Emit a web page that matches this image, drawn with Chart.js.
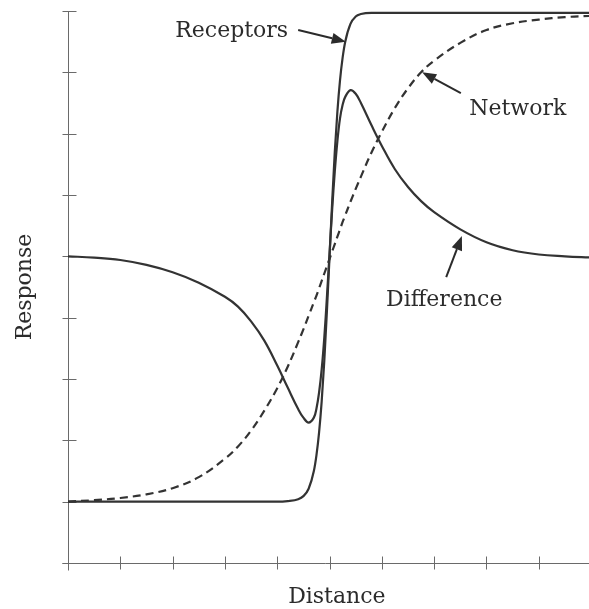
<!DOCTYPE html>
<html>
<head>
<meta charset="utf-8">
<title>Receptors / Network / Difference</title>
<script src="https://cdn.jsdelivr.net/npm/chart.js@4/dist/chart.umd.min.js"></script>
<style>
  html, body { margin: 0; padding: 0; background: #fff; overflow: hidden; }
  #wrap { width: 589px; height: 609px; }
</style>
</head>
<body>
<div id="wrap"><canvas id="chart" width="589" height="609"></canvas></div>
<script>
// distance samples (denser around the edge at 5)
const distance = [0, 0.5, 1, 1.5, 2, 2.5, 3, 3.25, 3.5, 3.75, 4, 4.2, 4.4, 4.5, 4.6, 4.7, 4.75, 4.8, 4.85, 4.9, 4.95,
  5, 5.05, 5.1, 5.15, 5.2, 5.25, 5.3, 5.4, 5.5, 5.6, 5.8, 6, 6.25, 6.5, 6.75, 7, 7.5, 8, 8.5, 9, 9.5, 10];

const receptors = [1, 1, 1, 1, 1, 1, 1, 1, 1, 1, 1, 1.01, 1.04, 1.09, 1.21, 1.5, 1.76, 2.13, 2.64, 3.3, 4.11,
  5.0, 5.89, 6.7, 7.36, 7.87, 8.24, 8.5, 8.79, 8.91, 8.95, 8.97, 8.97, 8.97, 8.97, 8.97, 8.97, 8.97, 8.97, 8.97, 8.97, 8.97, 8.97];

const network = [1.0, 1.025, 1.06, 1.12, 1.22, 1.4, 1.7, 1.9, 2.16, 2.48, 2.85, 3.2, 3.6, 3.81, 4.03, 4.25, 4.36, 4.48, 4.6, 4.72, 4.84,
  4.96, 5.08, 5.2, 5.32, 5.44, 5.56, 5.67, 5.89, 6.1, 6.3, 6.69, 7.03, 7.42, 7.74, 8.0, 8.19, 8.48, 8.69, 8.8, 8.86, 8.9, 8.92];

const difference = [5.0, 4.98, 4.94, 4.86, 4.74, 4.57, 4.34, 4.18, 3.94, 3.63, 3.22, 2.86, 2.51, 2.37, 2.29, 2.37, 2.52, 2.78, 3.16, 3.68, 4.34,
  5.05, 5.76, 6.38, 6.88, 7.25, 7.47, 7.6, 7.71, 7.65, 7.5, 7.14, 6.8, 6.42, 6.13, 5.9, 5.72, 5.44, 5.23, 5.1, 5.03, 5.0, 4.98];

const xTicks = [0, 1, 2, 3, 4, 5, 6, 7, 8, 9];
const yTicks = [0, 1, 2, 3, 4, 5, 6, 7, 8, 9];

(function () {
  const FONT = '22px "DejaVu Serif", "Liberation Serif", serif';
  const INK = "#2b2b2b";

  // callouts, given in data units
  const labels = [
    { text: "Receptors", x: 2.05, y: 8.58, align: "left" },
    { text: "Network", x: 7.67, y: 7.3, align: "left" },
    { text: "Difference", x: 6.08, y: 4.19, align: "left" },
  ];
  const arrows = [
    { from: [4.4, 8.69], to: [5.31, 8.5] },
    { from: [7.51, 7.66], to: [6.77, 8.0] },
    { from: [7.23, 4.66], to: [7.53, 5.33] },
  ];

  function points(series) {
    return distance.map((d, i) => ({ x: d, y: series[i] }));
  }

  function crisp(v) {
    return Math.round(v) + 0.5;
  }

  const axesPlugin = {
    id: "crossAxes",
    beforeDatasetsDraw(chart) {
      const ctx = chart.ctx;
      const sx = chart.scales.x;
      const sy = chart.scales.y;
      const x0 = crisp(sx.getPixelForValue(0));
      const y0 = crisp(sy.getPixelForValue(0));
      ctx.save();
      ctx.strokeStyle = "#6a6a6a";
      ctx.lineWidth = 1;
      ctx.beginPath();
      ctx.moveTo(x0, y0 + 7);
      ctx.lineTo(x0, crisp(sy.getPixelForValue(9)));
      ctx.moveTo(x0 - 6, y0);
      ctx.lineTo(chart.chartArea.right, y0);
      xTicks.forEach((t) => {
        const x = crisp(sx.getPixelForValue(t));
        ctx.moveTo(x, y0 - 7);
        ctx.lineTo(x, y0 + 6);
      });
      yTicks.forEach((t) => {
        const y = crisp(sy.getPixelForValue(t));
        ctx.moveTo(x0 - 6, y);
        ctx.lineTo(x0 + 8, y);
      });
      ctx.stroke();
      ctx.restore();
    },
    afterDraw(chart) {
      const ctx = chart.ctx;
      const sx = chart.scales.x;
      const sy = chart.scales.y;
      ctx.save();
      ctx.fillStyle = INK;
      ctx.strokeStyle = INK;
      ctx.font = FONT;
      ctx.textBaseline = "alphabetic";

      labels.forEach((l) => {
        ctx.textAlign = l.align;
        ctx.fillText(l.text, sx.getPixelForValue(l.x), sy.getPixelForValue(l.y));
      });

      arrows.forEach((a) => {
        const x1 = sx.getPixelForValue(a.from[0]);
        const y1 = sy.getPixelForValue(a.from[1]);
        const x2 = sx.getPixelForValue(a.to[0]);
        const y2 = sy.getPixelForValue(a.to[1]);
        const ang = Math.atan2(y2 - y1, x2 - x1);
        const len = 14;
        const half = 5.5;
        const bx = x2 - len * Math.cos(ang);
        const by = y2 - len * Math.sin(ang);
        ctx.lineWidth = 2;
        ctx.beginPath();
        ctx.moveTo(x1, y1);
        ctx.lineTo(bx, by);
        ctx.stroke();
        ctx.beginPath();
        ctx.moveTo(x2, y2);
        ctx.lineTo(bx + half * Math.sin(ang), by - half * Math.cos(ang));
        ctx.lineTo(bx - half * Math.sin(ang), by + half * Math.cos(ang));
        ctx.closePath();
        ctx.fill();
      });

      // axis titles
      ctx.textAlign = "center";
      ctx.fillText("Distance", sx.getPixelForValue(5.14), sy.getPixelForValue(-0.65));
      ctx.translate(sx.getPixelForValue(-0.71), sy.getPixelForValue(4.5));
      ctx.rotate(-Math.PI / 2);
      ctx.fillText("Response", 0, 0);
      ctx.restore();
    },
  };

  function curve(label, series, dash, mode) {
    return {
      label: label,
      data: points(series),
      borderColor: "#333333",
      backgroundColor: "rgba(0,0,0,0)",
      borderWidth: 2.2,
      borderDash: dash,
      pointRadius: 0,
      cubicInterpolationMode: mode,
      tension: 0.4,
      clip: false,
    };
  }

  new Chart(document.getElementById("chart"), {
    type: "line",
    data: {
      datasets: [
        curve("Receptors", receptors, [], "monotone"),
        curve("Network", network, [8, 5], "default"),
        curve("Difference", difference, [], "default"),
      ],
    },
    options: {
      responsive: false,
      animation: false,
      events: [],
      layout: { padding: { left: 68, top: 11, right: 0, bottom: 46 } },
      plugins: { legend: { display: false }, tooltip: { enabled: false } },
      scales: {
        x: { type: "linear", min: 0, max: 9.96, display: false },
        y: { type: "linear", min: 0, max: 9, display: false },
      },
    },
    plugins: [axesPlugin],
  });
})();
</script>
</body>
</html>
